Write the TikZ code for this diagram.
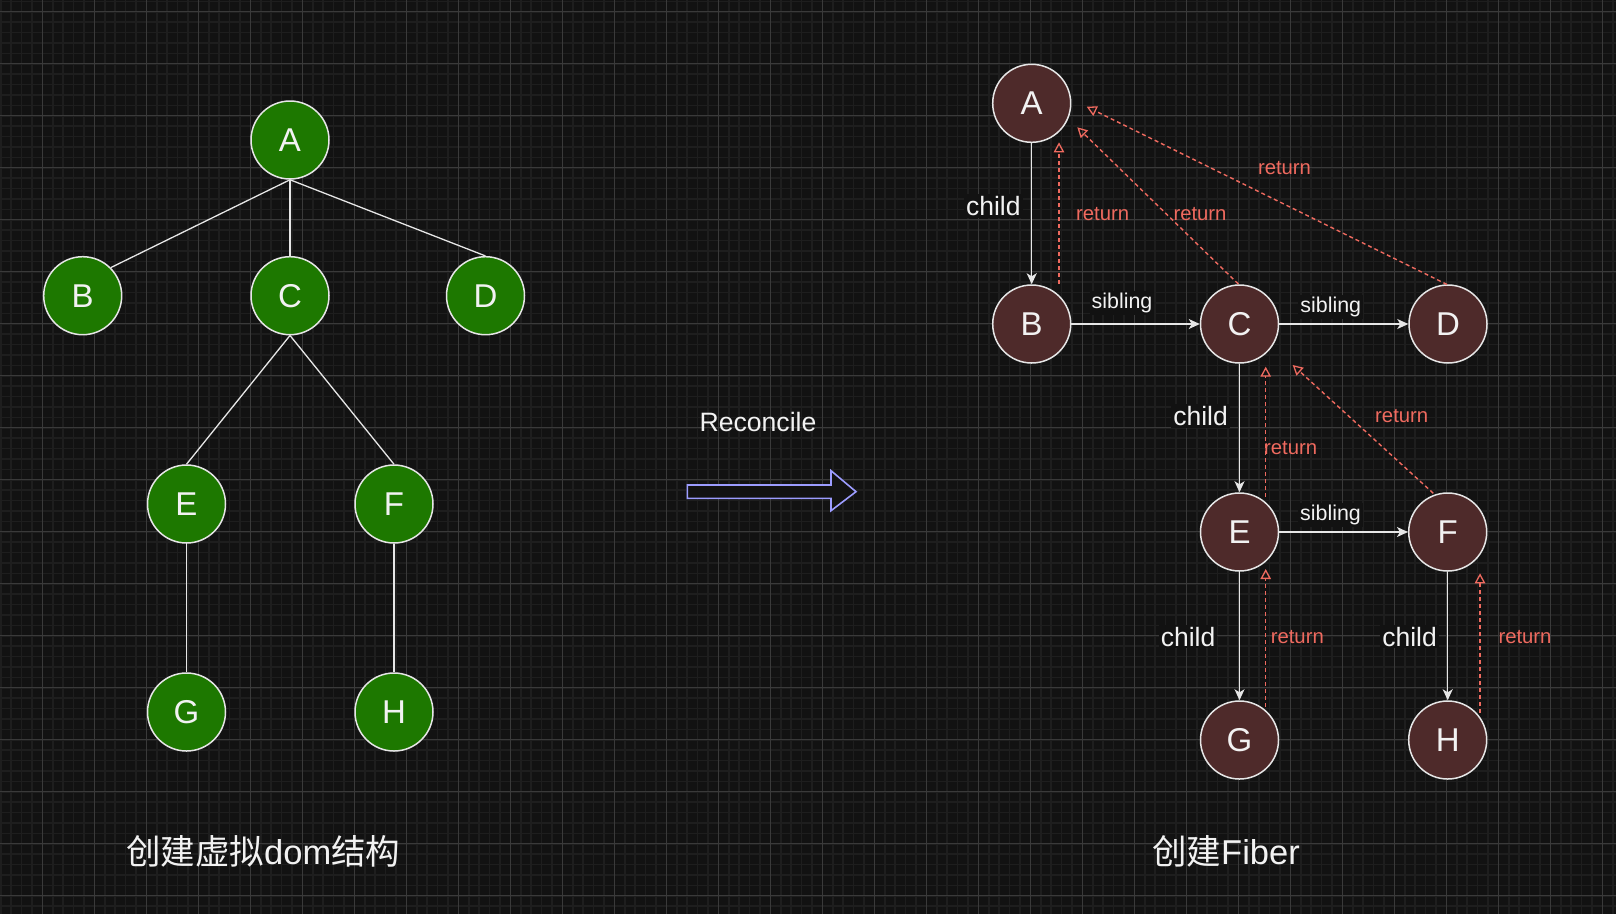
\documentclass[tikz,border=0pt]{standalone}
\usepackage{fontspec}
\setmainfont{Liberation Sans}
\newfontfamily\cjk{Noto Sans CJK SC}
\usetikzlibrary{arrows.meta,calc}
\definecolor{bgc}{HTML}{121212}
\definecolor{minorc}{HTML}{1E1E1E}
\definecolor{majorc}{HTML}{3A3A3A}
\definecolor{greenfill}{HTML}{1D7800}
\definecolor{fiberfill}{HTML}{4E2A2A}
\definecolor{strokec}{HTML}{E6E6E6}
\definecolor{txtc}{HTML}{F2F2F2}
\definecolor{retc}{HTML}{EF6A5F}
\definecolor{arrc}{HTML}{9C9CFF}
\begin{document}
\begin{tikzpicture}[x=1pt,y=-1pt,
  minorgrid/.style={draw=minorc,line width=1.6pt},
  majorgrid/.style={draw=majorc,line width=1pt},
  vnode/.style={circle,draw=strokec,line width=1.5pt,fill=greenfill,minimum size=78pt,inner sep=0pt,text=txtc,font=\fontsize{33}{36}\selectfont},
  fnode/.style={vnode,fill=fiberfill},
  treeedge/.style={draw=strokec,line width=1.3pt},
  ptr/.style={draw=strokec,line width=1.4pt,-{Stealth[length=11pt,width=10pt,inset=3pt]}},
  ret/.style={draw=retc,line width=1.4pt,dash pattern=on 4pt off 3pt,-{Triangle[open,length=10pt,width=10.5pt,line width=1.3pt]}},
  childlbl/.style={fill=bgc,inner sep=2pt,text=txtc,font=\fontsize{26.5}{30}\selectfont},
  siblbl/.style={fill=bgc,inner sep=2pt,text=txtc,font=\fontsize{21.4}{24}\selectfont},
  retlbl/.style={inner sep=1pt,text=retc,font=\fontsize{20.3}{24}\selectfont},
  titlelbl/.style={text=txtc,font=\fontsize{34.5}{40}\selectfont}]
\useasboundingbox (0,0) rectangle (1616,914);
\fill[bgc] (0,0) rectangle (1616,914);
% grid
\foreach \i in {0,...,155} \draw[minorgrid] ({0.7+10.4*\i},0) -- ++(0,914);
\foreach \i in {0,...,87} \draw[minorgrid] (0,{1.3+10.4*\i}) -- ++(1616,0);
\foreach \i in {0,...,30} \draw[majorgrid] ({42.3+52*\i},0) -- ++(0,914);
\foreach \i in {0,...,17} \draw[majorgrid] (0,{11.7+52*\i}) -- ++(1616,0);

% ---------- virtual DOM tree ----------
\node[vnode] (vA) at (290,140) {A};
\node[vnode] (vB) at (82.7,295.7) {B};
\node[vnode] (vC) at (290,295.7) {C};
\node[vnode] (vD) at (485.5,295.7) {D};
\node[vnode] (vE) at (186.5,504) {E};
\node[vnode] (vF) at (394,504) {F};
\node[vnode] (vG) at (186.5,712) {G};
\node[vnode] (vH) at (394,712) {H};
\draw[treeedge] (vA.south) -- (vB.north east);
\draw[treeedge] (vA.south) -- (vC.north);
\draw[treeedge] (vA.south) -- (vD.north);
\draw[treeedge] (vC.south) -- (vE.north);
\draw[treeedge] (vC.south) -- (vF.north);
\draw[treeedge] (vE.south) -- (vG.north);
\draw[treeedge] (vF.south) -- (vH.north);
\node[titlelbl] (t1) at (263.3,851) {{\cjk 创建虚拟}dom{\cjk 结构}};

% ---------- Reconcile arrow ----------
\node[text=txtc,font=\fontsize{26.6}{30}\selectfont] (rec) at (758,421.7) {Reconcile};
\draw[draw=arrc,fill=bgc,line width=1.6pt,line join=miter]
  (687.3,485) -- (831,485) -- (831,470.7) -- (856,491.7) -- (831,510.7) -- (831,498.3) -- (687.3,498.3) -- cycle;

% ---------- Fiber tree ----------
\node[fnode] (A) at (1031.7,103.3) {A};
\node[fnode] (B) at (1031.7,324) {B};
\node[fnode] (C) at (1239.5,324) {C};
\node[fnode] (D) at (1448,324) {D};
\node[fnode] (E) at (1239.5,532) {E};
\node[fnode] (F) at (1447.7,532) {F};
\node[fnode] (G) at (1239.5,740) {G};
\node[fnode] (H) at (1447.7,740) {H};
\node[titlelbl] (t2) at (1226,851.5) {{\cjk 创建}Fiber};

% child / sibling pointers
\draw[ptr] (A.south) -- (B.north);
\draw[ptr] (B.east) -- (C.west);
\draw[ptr] (C.east) -- (D.west);
\draw[ptr] (C.south) -- (E.north);
\draw[ptr] (E.east) -- (F.west);
\draw[ptr] (E.south) -- (G.north);
\draw[ptr] (F.south) -- (H.north);
\node[childlbl] (lAB) at (993.3,206) {child};
\node[siblbl] (lBC) at (1122,302.7) {sibling};
\node[siblbl] (lCD) at (1330.8,307.3) {sibling};
\node[childlbl] (lCE) at (1200.5,416) {child};
\node[siblbl] (lEF) at (1330.5,515) {sibling};
\node[childlbl] (lEG) at (1188,636.7) {child};
\node[childlbl] (lFH) at (1409.5,636.7) {child};

% return pointers
\coordinate (rBs) at ($(B)+(27.3,-40)$);
\coordinate (rBt) at ($(A)+(27.3,39)$);
\coordinate (rCs) at ($(C)+(-1.2,-40)$);
\coordinate (rCt) at ($(A)+(45.6,24)$);
\coordinate (rDs) at ($(D)+(-1,-39.5)$);
\coordinate (rDt) at ($(A)+(55,3.4)$);
\coordinate (rEs) at ($(E)+(26.2,-35)$);
\coordinate (rEt) at ($(C)+(26.2,42.7)$);
\coordinate (rFs) at ($(F)+(-14.4,-38.7)$);
\coordinate (rFt) at ($(C)+(53.2,41)$);
\coordinate (rGs) at ($(G)+(26.2,-33.3)$);
\coordinate (rGt) at ($(E)+(26.2,37)$);
\coordinate (rHs) at ($(H)+(32.3,-27.3)$);
\coordinate (rHt) at ($(F)+(32.3,41.3)$);
\draw[ret] (rBs) -- (rBt);
\draw[ret] (rCs) -- (rCt);
\draw[ret] (rDs) -- (rDt);
\draw[ret] (rEs) -- (rEt);
\draw[ret] (rFs) -- (rFt);
\draw[ret] (rGs) -- (rGt);
\draw[ret] (rHs) -- (rHt);
\node[retlbl] (lrB) at (1102.7,214.3) {return};
\node[retlbl] (lrC) at (1200,214.3) {return};
\node[retlbl] (lrD) at (1284.5,168.3) {return};
\node[retlbl] (lrE) at (1290.7,448.3) {return};
\node[retlbl] (lrF) at (1401.7,415.7) {return};
\node[retlbl] (lrG) at (1297.3,636.7) {return};
\node[retlbl] (lrH) at (1525,636.7) {return};
\end{tikzpicture}
\end{document}
